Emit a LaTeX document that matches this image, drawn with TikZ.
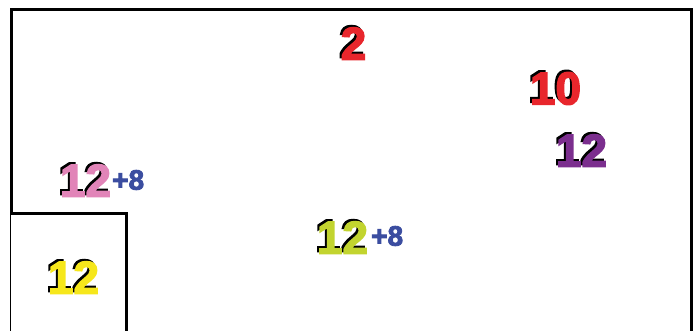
\documentclass[tikz,border=0pt]{standalone}
\usepackage{fontspec}
\setmainfont{Liberation Sans}
\newfontfamily\heavyfont[FakeBold=3]{Liberation Sans Bold}
\definecolor{cred}{HTML}{E8262C}
\definecolor{cpurple}{HTML}{7B2E8E}
\definecolor{cpink}{HTML}{E184B8}
\definecolor{clime}{HTML}{C2D42F}
\definecolor{cyellow}{HTML}{F6E71B}
\definecolor{cblue}{HTML}{3B4DA0}
\begin{document}
\begin{tikzpicture}[x=1pt,y=-1pt,
  num/.style={inner sep=0pt, font=\fontsize{46}{46}\selectfont\heavyfont},
  sup/.style={inner sep=0pt, anchor=west, text=cblue, font=\fontsize{28}{28}\selectfont\heavyfont},
  frame/.style={line width=3.2pt, line cap=rect}]
\useasboundingbox (0,0) rectangle (696,330);
\fill[white] (0,0) rectangle (696,330);
% frames
\coordinate (tl) at (11.5,9.5);
\coordinate (tr) at (691.5,9.5);
\coordinate (br) at (691.5,340);
\coordinate (sl) at (11.5,213.5);
\coordinate (sr) at (126.5,213.5);
\coordinate (sb) at (126.5,340);
\coordinate (lb) at (10.5,340);
\draw[frame] (sl) -- (tl) -- (tr) -- (br);
\draw[frame] (sl) -- (sr) -- (sb);
\draw[line width=1.6pt] (10.5,213.5) -- (lb);
% numbers with shadows
\node[num, text=black] (n2s) at (351.5,41.5) {2};
\node[num, text=cred] (n2) at (353.5,43.5) {2};
\node[num, text=black] (n10s) at (553.5,86.5) {10};
\node[num, text=cred] (n10) at (555.5,88.5) {10};
\node[num, text=black] (n12ps) at (579.5,148.5) {12};
\node[num, text=cpurple] (n12p) at (581.5,150.5) {12};
\node[num, text=black] (n12ks) at (83.5,178.5) {12};
\node[num, text=cpink] (n12k) at (85.5,180.5) {12};
\node[sup] (s1) at (112,180) {+8};
\node[num, text=black] (n12gs) at (340.5,235.5) {12};
\node[num, text=clime] (n12g) at (342.5,237.5) {12};
\node[sup] (s2) at (371,236) {+8};
\node[num, text=black] (n12ys) at (71.5,275.5) {12};
\node[num, text=cyellow] (n12y) at (73.5,277.5) {12};
\end{tikzpicture}
\end{document}
